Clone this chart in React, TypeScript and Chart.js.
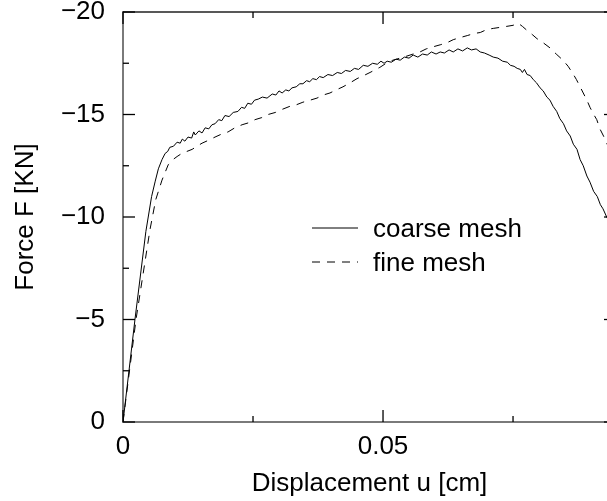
import React, { useEffect, useRef } from "react";
import { Chart, registerables } from "chart.js";

Chart.register(...registerables);

// ---- data ----
const coarseX = [
  0, 0.0023, 0.0044, 0.0055, 0.0062, 0.0068, 0.0075, 0.0081, 0.0086, 0.009, 0.0097, 0.0104, 0.011, 0.0114,
  0.0119, 0.0125, 0.0132, 0.0136, 0.0139, 0.0146, 0.0152, 0.0158, 0.0165, 0.0171, 0.0177, 0.0184, 0.019,
  0.0196, 0.0204, 0.0212, 0.0221, 0.0228, 0.0234, 0.024, 0.0247, 0.0253, 0.026, 0.0268, 0.0277, 0.0287,
  0.0294, 0.03, 0.0306, 0.0313, 0.0319, 0.0325, 0.0333, 0.034, 0.0346, 0.0353, 0.0359, 0.0365, 0.0372,
  0.0378, 0.0385, 0.0394, 0.0403, 0.0412, 0.042, 0.0428, 0.0437, 0.0445, 0.0453, 0.0462, 0.0471, 0.048,
  0.0489, 0.0496, 0.0502, 0.0508, 0.0516, 0.0525, 0.0533, 0.0541, 0.055, 0.0558, 0.0567, 0.0576, 0.0585,
  0.0593, 0.0602, 0.061, 0.0618, 0.0627, 0.0635, 0.0644, 0.0653, 0.0662, 0.067, 0.0679, 0.0687, 0.0695,
  0.0704, 0.0712, 0.0721, 0.073, 0.0739, 0.0745, 0.0752, 0.0758, 0.0764, 0.0768, 0.0772, 0.0777, 0.0783,
  0.0789, 0.0795, 0.0802, 0.0808, 0.0815, 0.0821, 0.0827, 0.0834, 0.084, 0.0847, 0.0853, 0.086, 0.0866,
  0.0873, 0.0879, 0.0885, 0.0892, 0.0898, 0.0905, 0.0912, 0.0918, 0.0923, 0.0931, 0.094, 0.0948,
];
const coarseY = [
  0, -5.0, -9.3, -11.0, -11.75, -12.35, -12.8, -13.1, -13.2, -13.4, -13.45, -13.65, -13.6, -13.8,
  -13.7, -13.9, -13.85, -14.15, -14.0, -14.2, -14.1, -14.35, -14.3, -14.5, -14.55, -14.75, -14.7,
  -14.95, -14.9, -15.1, -15.15, -15.35, -15.3, -15.55, -15.5, -15.7, -15.75, -15.85, -15.8, -16.0,
  -15.95, -16.15, -16.05, -16.2, -16.15, -16.3, -16.35, -16.5, -16.5, -16.65, -16.6, -16.75, -16.7,
  -16.85, -16.8, -16.95, -16.9, -17.05, -17.0, -17.15, -17.1, -17.25, -17.2, -17.4, -17.35, -17.5,
  -17.45, -17.6, -17.5, -17.6, -17.55, -17.7, -17.65, -17.8, -17.75, -17.9, -17.8, -17.95, -17.9,
  -18.05, -17.95, -18.05, -18.0, -18.15, -18.05, -18.2, -18.1, -18.25, -18.15, -18.2, -18.05, -18.0,
  -17.9, -17.8, -17.75, -17.6, -17.55, -17.4, -17.35, -17.25, -17.2, -17.05, -17.2, -16.95, -16.9,
  -16.7, -16.55, -16.3, -16.15, -15.85, -15.7, -15.4, -15.15, -14.8, -14.55, -14.2, -13.95, -13.55,
  -13.3, -12.8, -12.5, -12.0, -11.7, -11.25, -11.0, -10.6, -10.4, -9.95, -9.6, -9.25,
];

const fineX = [
  0, 0.0025, 0.0052, 0.0063, 0.0075, 0.0087, 0.0096, 0.0104, 0.0113, 0.0123, 0.0133, 0.0142, 0.0152,
  0.0165, 0.0177, 0.019, 0.0202, 0.0215, 0.0229, 0.0242, 0.0254, 0.0267, 0.0279, 0.0293, 0.0306, 0.0321,
  0.0331, 0.0346, 0.036, 0.0373, 0.0385, 0.0398, 0.041, 0.0423, 0.0437, 0.045, 0.0463, 0.0475, 0.0494,
  0.0506, 0.0519, 0.0533, 0.0546, 0.0558, 0.0571, 0.0583, 0.0596, 0.061, 0.0623, 0.0635, 0.0648, 0.0662,
  0.0675, 0.0687, 0.07, 0.0712, 0.0725, 0.0738, 0.075, 0.076, 0.0768, 0.0777, 0.0787, 0.0796, 0.0808,
  0.0821, 0.0833, 0.0846, 0.0856, 0.0865, 0.0872, 0.0879, 0.0887, 0.0892, 0.0898, 0.0904, 0.0911, 0.0917,
  0.0924, 0.0931, 0.094, 0.0948,
];
const fineY = [
  0, -5.0, -9.4, -10.85, -11.8, -12.55, -12.8, -12.95, -13.1, -13.2, -13.3, -13.45, -13.6,
  -13.75, -13.9, -14.05, -14.15, -14.35, -14.5, -14.6, -14.75, -14.85, -15.0, -15.1, -15.25, -15.4,
  -15.45, -15.6, -15.7, -15.8, -15.95, -16.05, -16.2, -16.35, -16.55, -16.75, -16.9, -17.05, -17.3,
  -17.5, -17.65, -17.75, -17.85, -17.95, -18.05, -18.2, -18.3, -18.4, -18.5, -18.65, -18.75, -18.85,
  -18.95, -19.0, -19.15, -19.2, -19.25, -19.3, -19.35, -19.45, -19.3, -19.1, -18.9, -18.7, -18.5,
  -18.25, -17.95, -17.65, -17.35, -17.0, -16.7, -16.35, -15.95, -15.7, -15.35, -15.05, -14.75, -14.3,
  -13.95, -13.55, -13.2, -12.8,
];

const seriesLabels = ["coarse mesh", "fine mesh"];
const xTitle = "Displacement u [cm]";
const yTitle = "Force F [KN]";
const xMin = 0;
const xMax = 0.0948;
const xMinorStep = 0.025;
const xMajorStep = 0.05;
const yMin = -20;
const yMax = 0;
const yMinorStep = 2.5;
const yMajorStep = 5;

const FONT = "'Liberation Sans', Arial, Helvetica, sans-serif";
const FONT_SIZE = 26;

const isMultiple = (v: number, step: number) => Math.abs(v / step - Math.round(v / step)) < 1e-6;

const frameTicksPlugin = {
  id: "frameTicks",
  afterDatasetsDraw(chart: any) {
    const { ctx, chartArea: a, scales } = chart;
    const xs = scales.x;
    const ys = scales.y;
    ctx.save();
    ctx.strokeStyle = "#222";
    ctx.lineWidth = 1.4;
    ctx.beginPath();
    ctx.moveTo(a.left, a.top);
    ctx.lineTo(a.right, a.top);
    ctx.lineTo(a.right, a.bottom);
    ctx.stroke();
    ctx.strokeStyle = "#000";
    ctx.lineWidth = 1.3;
    const seg = (x1: number, y1: number, x2: number, y2: number) => {
      ctx.beginPath();
      ctx.moveTo(x1, y1);
      ctx.lineTo(x2, y2);
      ctx.stroke();
    };
    xs.ticks.forEach((t: any) => {
      const v = t.value;
      if (!isMultiple(v, xMinorStep)) return;
      const len = isMultiple(v, xMajorStep) ? 12 : 6;
      const px = xs.getPixelForValue(v);
      seg(px, a.bottom, px, a.bottom - len);
      seg(px, a.top, px, a.top + len);
    });
    ys.ticks.forEach((t: any) => {
      const v = t.value;
      if (!isMultiple(v, yMinorStep)) return;
      const len = isMultiple(v, yMajorStep) ? 12 : 6;
      const py = ys.getPixelForValue(v);
      seg(a.left, py, a.left + len, py);
      seg(a.right, py, a.right - len, py);
    });
    ctx.restore();
  },
};

const legendPlugin = {
  id: "innerLegend",
  afterDatasetsDraw(chart: any) {
    const { ctx, chartArea: a } = chart;
    const x0 = a.left + 189;
    const x1 = x0 + 46;
    const tx = x1 + 15;
    const y0 = a.top + 216;
    const gap = 34;
    ctx.save();
    ctx.font = `${FONT_SIZE}px ${FONT}`;
    ctx.fillStyle = "#000";
    ctx.textAlign = "left";
    ctx.textBaseline = "alphabetic";
    chart.data.datasets.forEach((ds: any, i: number) => {
      const y = y0 + i * gap;
      ctx.strokeStyle = "#000";
      ctx.lineWidth = 1;
      ctx.setLineDash(ds.borderDash || []);
      ctx.beginPath();
      ctx.moveTo(x0, y);
      ctx.lineTo(x1, y);
      ctx.stroke();
      ctx.setLineDash([]);
      ctx.fillText(ds.label, tx, y + 9);
    });
    ctx.restore();
  },
};

export default function App() {
  const ref = useRef<HTMLCanvasElement | null>(null);

  useEffect(() => {
    if (!ref.current) return;
    const toPts = (xs: number[], ys: number[]) => xs.map((x, i) => ({ x, y: ys[i] }));
    const chart = new Chart(ref.current, {
      type: "line",
      data: {
        datasets: [
          {
            label: seriesLabels[0],
            data: toPts(coarseX, coarseY),
            borderColor: "#000",
            borderWidth: 1,
            pointRadius: 0,
            fill: false,
            tension: 0,
          },
          {
            label: seriesLabels[1],
            data: toPts(fineX, fineY),
            borderColor: "#000",
            borderWidth: 1,
            borderDash: [8, 7],
            pointRadius: 0,
            fill: false,
            tension: 0,
          },
        ],
      },
      options: {
        responsive: false,
        animation: false,
        devicePixelRatio: 1,
        layout: { padding: { left: 0, top: 12, right: 24, bottom: 0 } },
        plugins: { legend: { display: false }, tooltip: { enabled: false } },
        scales: {
          x: {
            type: "linear",
            min: xMin,
            max: xMax,
            afterFit: (s: any) => {
              s.height = 79;
              s.paddingLeft = 0;
              s.paddingRight = 0;
            },
            grid: { display: false, drawTicks: false },
            border: { display: true, color: "#7a7a7a", width: 2 },
            ticks: {
              stepSize: xMinorStep,
              includeBounds: false,
              autoSkip: false,
              maxRotation: 0,
              padding: 9,
              color: "#000",
              font: { family: FONT, size: FONT_SIZE },
              callback: (v: any) => {
                const n = Number(v);
                if (!isMultiple(n, xMajorStep)) return "";
                return n === 0 ? "0" : String(+n.toFixed(3));
              },
            },
            title: {
              display: true,
              text: xTitle,
              color: "#000",
              font: { family: FONT, size: FONT_SIZE },
              padding: { top: 0, bottom: 1.5 },
            },
          },
          y: {
            type: "linear",
            min: yMin,
            max: yMax,
            reverse: true,
            afterFit: (s: any) => {
              s.width = 123;
              s.paddingTop = 0;
              s.paddingBottom = 0;
            },
            grid: { display: false, drawTicks: false },
            border: { display: true, color: "#7a7a7a", width: 2 },
            ticks: {
              stepSize: yMinorStep,
              autoSkip: false,
              padding: 18,
              color: "#000",
              font: { family: FONT, size: FONT_SIZE, lineHeight: 0.9 },
              callback: (v: any) => {
                const n = Number(v);
                if (!isMultiple(n, yMajorStep)) return "";
                return n === 0 ? "0" : "\u2212" + Math.abs(n);
              },
            },
            title: {
              display: true,
              text: yTitle,
              color: "#000",
              font: { family: FONT, size: FONT_SIZE },
              padding: { top: 10, bottom: 0 },
            },
          },
        },
      },
      plugins: [frameTicksPlugin, legendPlugin],
    } as any);
    return () => chart.destroy();
  }, []);

  return (
    <div
      style={{
        position: "fixed",
        left: 0,
        top: 0,
        width: 607,
        height: 501,
        overflow: "hidden",
        background: "#fff",
      }}
    >
      <canvas ref={ref} width={640} height={501} style={{ display: "block", width: 640, height: 501 }} />
    </div>
  );
}
